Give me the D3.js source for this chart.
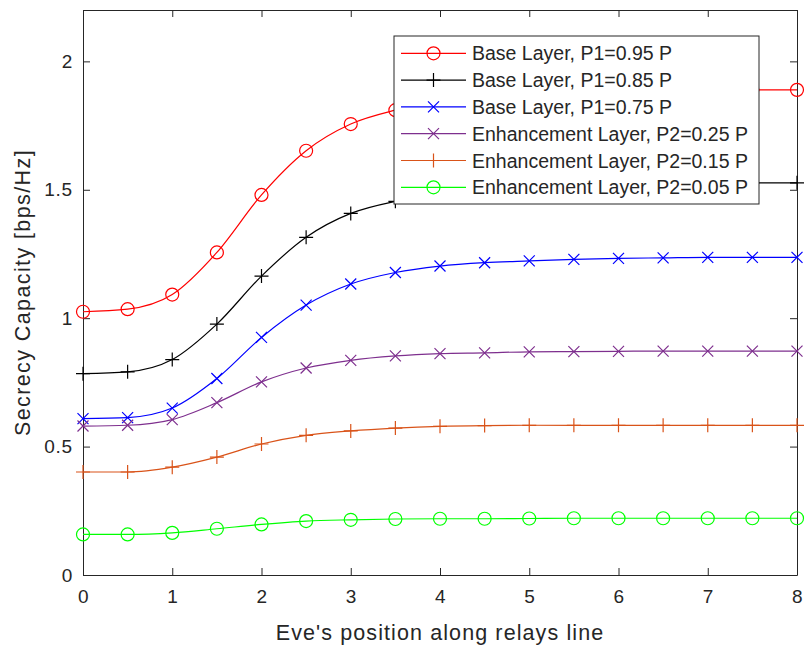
<!DOCTYPE html>
<html>
<head>
<meta charset="utf-8">
<script src="https://cdn.jsdelivr.net/npm/d3@7"></script>
<style>
  body { margin: 0; background: #fff; }
  text { font-family: "Liberation Sans", Arial, sans-serif; fill: #262626; }
</style>
</head>
<body>
<div class="chart"></div>
<script>
// positions along relays line (markers every 0.5)
var positions = [0, 0.5, 1, 1.5, 2, 2.5, 3, 3.5, 4, 4.5, 5, 5.5, 6, 6.5, 7, 7.5, 8];

var baseP95 = [1.025, 1.035, 1.092, 1.256, 1.48, 1.652, 1.756, 1.81, 1.845, 1.864, 1.874, 1.880, 1.884, 1.886, 1.888, 1.889, 1.889];
var baseP85 = [0.784, 0.791, 0.839, 0.977, 1.164, 1.315, 1.408, 1.455, 1.482, 1.500, 1.511, 1.518, 1.522, 1.525, 1.526, 1.527, 1.527];
var baseP75 = [0.609, 0.613, 0.650, 0.765, 0.925, 1.051, 1.133, 1.178, 1.203, 1.216, 1.223, 1.229, 1.233, 1.235, 1.237, 1.237, 1.237];
var enhP25 = [0.580, 0.583, 0.605, 0.671, 0.752, 0.806, 0.836, 0.853, 0.862, 0.865, 0.869, 0.870, 0.871, 0.872, 0.872, 0.872, 0.872];
var enhP15 = [0.401, 0.401, 0.420, 0.459, 0.510, 0.544, 0.561, 0.572, 0.579, 0.582, 0.583, 0.583, 0.583, 0.583, 0.583, 0.583, 0.583];
var enhP05 = [0.158, 0.158, 0.164, 0.180, 0.197, 0.210, 0.215, 0.218, 0.219, 0.219, 0.220, 0.221, 0.221, 0.221, 0.221, 0.221, 0.221];

var seriesNames = [
  "Base Layer, P1=0.95 P",
  "Base Layer, P1=0.85 P",
  "Base Layer, P1=0.75 P",
  "Enhancement Layer, P2=0.25 P",
  "Enhancement Layer, P2=0.15 P",
  "Enhancement Layer, P2=0.05 P"
];

var xTicks = [0, 1, 2, 3, 4, 5, 6, 7, 8];
var yTicks = [0, 0.5, 1, 1.5, 2];

function init() {
  var w = 806;
  var h = 646;
  var left = 83, right = 797, top = 10, bottom = 575;
  var axisColor = "#262626";

  var series = [
    { name: seriesNames[0], values: baseP95, color: "#ff0000", marker: "circle" },
    { name: seriesNames[1], values: baseP85, color: "#000000", marker: "plus" },
    { name: seriesNames[2], values: baseP75, color: "#0000ff", marker: "cross" },
    { name: seriesNames[3], values: enhP25, color: "#7e2f8e", marker: "cross" },
    { name: seriesNames[4], values: enhP15, color: "#d95319", marker: "plus" },
    { name: seriesNames[5], values: enhP05, color: "#00ff00", marker: "circle" }
  ];

  var xScale = d3.scaleLinear().domain([0, 8]).range([left, right]);
  var yScale = d3.scaleLinear().domain([0, 2.2]).range([bottom, top]);

  var svg = d3.select(".chart")
    .append("svg")
    .attr("width", w)
    .attr("height", h);

  // axes with ticks pointing inside (box on)
  var xAxis = d3.axisBottom(xScale).tickValues(xTicks).tickFormat(d3.format("d"))
    .tickSizeInner(-7).tickSizeOuter(0).tickPadding(10);
  var yAxis = d3.axisLeft(yScale).tickValues(yTicks).tickFormat(function(d) { return d; })
    .tickSizeInner(-7).tickSizeOuter(0).tickPadding(10);

  var gx = svg.append("g")
    .attr("transform", "translate(0," + bottom + ")")
    .call(xAxis);
  gx.selectAll("text").attr("font-size", "19px").attr("dy", "0.95em").style("letter-spacing", "0.6px");

  var gy = svg.append("g")
    .attr("transform", "translate(" + left + ",0)")
    .call(yAxis);
  gy.selectAll("text").attr("font-size", "19px").style("letter-spacing", "0.8px");

  svg.append("g")
    .attr("transform", "translate(0," + top + ")")
    .call(d3.axisTop(xScale).tickValues(xTicks).tickFormat("").tickSizeInner(-7).tickSizeOuter(0));
  svg.append("g")
    .attr("transform", "translate(" + right + ",0)")
    .call(d3.axisRight(yScale).tickValues(yTicks).tickFormat("").tickSizeInner(-7).tickSizeOuter(0));

  svg.selectAll(".domain, .tick line").attr("stroke", axisColor);
  svg.selectAll(".tick text").attr("fill", axisColor).attr("font-family", "Liberation Sans, Arial, sans-serif");

  // axis labels
  svg.append("text")
    .attr("x", (left + right) / 2)
    .attr("y", 640)
    .attr("text-anchor", "middle")
    .attr("font-size", "21.5px")
    .style("letter-spacing", "1.1px")
    .text("Eve's position along relays line");

  svg.append("text")
    .attr("transform", "translate(30," + (top + bottom) / 2 + ") rotate(-90)")
    .attr("text-anchor", "middle")
    .attr("font-size", "21.5px")
    .style("letter-spacing", "1.4px")
    .text("Secrecy Capacity [bps/Hz]");

  var line = d3.line()
    .x(function(d) { return xScale(d.x); })
    .y(function(d) { return yScale(d.y); })
    .curve(d3.curveMonotoneX);

  function drawMarker(g, type, color) {
    if (type === "circle") {
      g.append("circle").attr("r", 6.5).attr("fill", "none").attr("stroke", color).attr("stroke-width", 1.2);
    } else if (type === "plus") {
      g.append("path").attr("d", "M-7,0H7M0,-7V7").attr("stroke", color).attr("stroke-width", 1.2);
    } else {
      g.append("path").attr("d", "M-5.5,-5.5L5.5,5.5M-5.5,5.5L5.5,-5.5").attr("stroke", color).attr("stroke-width", 1.2);
    }
  }

  series.forEach(function(s) {
    var pts = positions.map(function(p, i) { return { x: p, y: s.values[i] }; });

    svg.append("path")
      .datum(pts)
      .attr("fill", "none")
      .attr("stroke", s.color)
      .attr("stroke-width", 1.2)
      .attr("d", line);

    svg.selectAll(null)
      .data(pts)
      .enter()
      .append("g")
      .attr("transform", function(d) { return "translate(" + xScale(d.x) + "," + yScale(d.y) + ")"; })
      .each(function() { drawMarker(d3.select(this), s.marker, s.color); });
  });

  // legend
  var legend = svg.append("g").attr("transform", "translate(394,36)");
  legend.append("rect")
    .attr("width", 365)
    .attr("height", 168)
    .attr("fill", "#fff")
    .attr("stroke", axisColor)
    .attr("stroke-width", 1);

  series.forEach(function(s, i) {
    var ly = 17.3 + i * 26.8;
    var row = legend.append("g").attr("transform", "translate(0," + ly + ")");
    row.append("line")
      .attr("x1", 7).attr("x2", 72)
      .attr("stroke", s.color).attr("stroke-width", 1.2);
    drawMarker(row.append("g").attr("transform", "translate(39.5,0)"), s.marker, s.color);
    row.append("text")
      .attr("x", 78)
      .attr("dy", "0.36em")
      .attr("font-size", "19.5px")
      .attr("fill", "#000")
      .text(s.name);
  });
}

window.onload = init;
</script>
</body>
</html>
